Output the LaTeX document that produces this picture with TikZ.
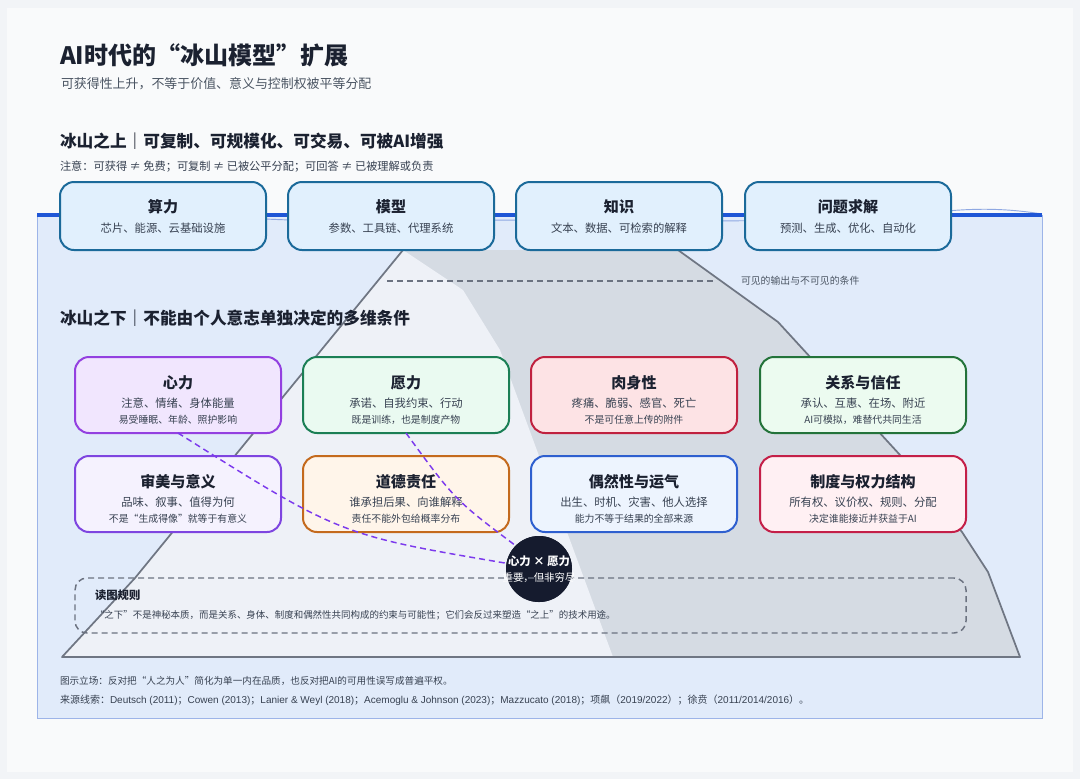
\documentclass[tikz,border=0pt]{standalone}
\usepackage{fontspec}
\setmainfont{Noto Sans CJK SC}
\newfontfamily\latf{Liberation Sans}
\usetikzlibrary{calc}
\definecolor{pagebg}{HTML}{F2F4F7}
\definecolor{cardbg}{HTML}{F9FAFB}
\definecolor{water}{HTML}{E1EBFA}
\definecolor{waterborder}{HTML}{9DB4E8}
\definecolor{waterblue}{HTML}{1F56D6}
\definecolor{wavecol}{HTML}{8FA8E2}
\definecolor{icegray}{HTML}{D5DBE3}
\definecolor{icewhite}{HTML}{EEF1F7}
\definecolor{iceline}{HTML}{6F7683}
\definecolor{topfill}{HTML}{E1F0FD}
\definecolor{topdraw}{HTML}{1B6A9A}
\definecolor{txtdark}{HTML}{1B2130}
\definecolor{txtmid}{HTML}{374151}
\definecolor{txtgray}{HTML}{4B5563}
\definecolor{dashgray}{HTML}{6B7280}
\definecolor{connpurple}{HTML}{7C3AED}
\definecolor{knotfill}{HTML}{151B2E}
\definecolor{pAfill}{HTML}{F1E6FE}\definecolor{pAdraw}{HTML}{9340E0}
\definecolor{gAfill}{HTML}{EAFAF1}\definecolor{gAdraw}{HTML}{1B7F55}
\definecolor{rAfill}{HTML}{FDE3E5}\definecolor{rAdraw}{HTML}{C0213F}
\definecolor{gBfill}{HTML}{ECFBF0}\definecolor{gBdraw}{HTML}{23733A}
\definecolor{lvfill}{HTML}{F5F2FE}\definecolor{lvdraw}{HTML}{7E45E0}
\definecolor{orfill}{HTML}{FFF5EA}\definecolor{ordraw}{HTML}{C46A1D}
\definecolor{blfill}{HTML}{EDF4FE}\definecolor{bldraw}{HTML}{2E5FCF}
\definecolor{pkfill}{HTML}{FFF0F3}\definecolor{pkdraw}{HTML}{C41F48}

\newcommand\topcard[5]{%
  \node[topbox] (#1) at (#2,#3) {};
  \node[ttitle] (#1t) at ($(#1.north)+(0,25)$) {#4};
  \node[tsub] (#1s) at ($(#1.north)+(0,46)$) {#5};
}
\newcommand\icebox[8]{%
  \node[lowbox, fill=#4, draw=#5] (#1) at (#2,#3) {};
  \node[btitle] (#1t) at ($(#1.north)+(0,26)$) {#6};
  \node[bsub] (#1s) at ($(#1.north)+(0,46)$) {#7};
  \node[bnote] (#1n) at ($(#1.north)+(0,63)$) {#8};
}

\begin{document}
\begin{tikzpicture}[x=0.75pt,y=-0.75pt,
  txt/.style={inner sep=0pt, outer sep=0pt, text=txtdark},
  topbox/.style={rectangle, rounded corners=10.5pt, fill=topfill, draw=topdraw, line width=1.5pt,
    minimum width=154.5pt, minimum height=51pt, inner sep=0pt, outer sep=0pt},
  lowbox/.style={rectangle, rounded corners=10.5pt, line width=1.5pt,
    minimum width=154.5pt, minimum height=57pt, inner sep=0pt, outer sep=0pt},
  ttitle/.style={txt, font=\fontsize{11.3}{13}\selectfont\bfseries},
  tsub/.style={txt, text=txtmid, font=\fontsize{8.5}{10}\selectfont},
  btitle/.style={txt, font=\fontsize{11.3}{13}\selectfont\bfseries},
  bsub/.style={txt, text=txtmid, font=\fontsize{8.5}{10}\selectfont},
  bnote/.style={txt, text=txtmid, font=\fontsize{7.4}{9}\selectfont},
  conn/.style={draw=connpurple, line width=1.1pt, dash pattern=on 4.5pt off 3pt},
  dashgrayline/.style={draw=dashgray, line width=1.1pt, dash pattern=on 4.5pt off 3pt},
  iceoutline/.style={draw=iceline, line width=1.3pt, line join=round},
]
\useasboundingbox (0,0) rectangle (1080,779);
\fill[pagebg] (0,0) rectangle (1080,779);
\fill[cardbg] (7,8) rectangle (1073,772);

% water
\filldraw[fill=water, draw=waterborder, line width=0.7pt] (37,215) rectangle (1042,718);
\draw[wavecol, line width=0.7pt] (37,216) .. controls (130,204) and (230,224) .. (400,221)
  .. controls (560,218) and (760,224) .. (880,218) .. controls (940,212) and (980,204) .. (1042,214);
\draw[waterblue, line width=2.6pt] (37,215) -- (1042,215);

% iceberg
\fill[icegray] (403,250) -- (678,250) -- (778,322) -- (900,455) -- (962,532) -- (988,572)
  -- (1020,657) -- (62,657) -- (135,578) -- cycle;
\fill[icewhite] (403,250) -- (463,290) -- (500,350) -- (613,657) -- (62,657) -- (135,578) -- cycle;
\draw[iceoutline] (403,250) -- (135,578) -- (62,657) -- (1020,657) -- (988,572) -- (962,532)
  -- (900,455) -- (778,322) -- (678,250);

% visible line
\coordinate (vl1) at (387,281);
\coordinate (vl2) at (716,281);
\draw[dashgrayline] (vl1) -- (vl2);
\node[txt, anchor=west, text=txtgray, font=\fontsize{7.4}{9}\selectfont] (vlabel) at (741,281) {可见的输出与不可见的条件};

% headings
\node[txt, anchor=west, font=\fontsize{18}{21}\selectfont\bfseries] (title) at (60,55) {AI时代的“冰山模型”扩展};
\node[txt, anchor=west, text=txtgray, font=\fontsize{9.7}{12}\selectfont] (subtitle) at (61,84) {可获得性上升，不等于价值、意义与控制权被平等分配};
\node[txt, anchor=west, font=\fontsize{12.5}{15}\selectfont\bfseries] (above) at (60,141) {冰山之上｜可复制、可规模化、可交易、可被AI增强};
\node[txt, anchor=west, text=txtmid, font=\fontsize{8.4}{10}\selectfont] (note) at (60,167) {注意：可获得 ≠ 免费；可复制 ≠ 已被公平分配；可回答 ≠ 已被理解或负责};
\node[txt, anchor=west, font=\fontsize{12.5}{15}\selectfont\bfseries] (below) at (60,318) {冰山之下｜不能由个人意志单独决定的多维条件};

% top cards
\topcard{suanli}{163}{216}{算力}{芯片、能源、云基础设施}
\topcard{moxing}{391}{216}{模型}{参数、工具链、代理系统}
\topcard{zhishi}{619}{216}{知识}{文本、数据、可检索的解释}
\topcard{qiujie}{848}{216}{问题求解}{预测、生成、优化、自动化}

% lower boxes
\icebox{xinli}{178}{395}{pAfill}{pAdraw}{心力}{注意、情绪、身体能量}{易受睡眠、年龄、照护影响}
\icebox{yuanli}{406}{395}{gAfill}{gAdraw}{愿力}{承诺、自我约束、行动}{既是训练，也是制度产物}
\icebox{roushen}{634}{395}{rAfill}{rAdraw}{肉身性}{疼痛、脆弱、感官、死亡}{不是可任意上传的附件}
\icebox{guanxi}{863}{395}{gBfill}{gBdraw}{关系与信任}{承认、互惠、在场、附近}{AI可模拟，难替代共同生活}
\icebox{shenmei}{178}{494}{lvfill}{lvdraw}{审美与意义}{品味、叙事、值得为何}{不是“生成得像”就等于有意义}
\icebox{daode}{406}{494}{orfill}{ordraw}{道德责任}{谁承担后果、向谁解释}{责任不能外包给概率分布}
\icebox{ouran}{634}{494}{blfill}{bldraw}{偶然性与运气}{出生、时机、灾害、他人选择}{能力不等于结果的全部来源}
\icebox{zhidu}{863}{494}{pkfill}{pkdraw}{制度与权力结构}{所有权、议价权、规则、分配}{决定谁能接近并获益于AI}

% knot
\node[circle, fill=knotfill, minimum size=49.5pt, inner sep=0pt, outer sep=0pt] (knot) at (539,569) {};
\draw[conn] (xinli.south) .. controls (340,535) .. (knot.170);
\draw[conn] (yuanli.south) .. controls (455,500) .. (knot.135);
\fill[knotfill] (knot.center) circle (24.75pt);

% rules box
\node[rectangle, rounded corners=9pt, draw=dashgray, line width=1.1pt, dash pattern=on 4.5pt off 3pt,
  minimum width=668.25pt, minimum height=41.25pt, inner sep=0pt, outer sep=0pt] (rules) at (520.5,605.5) {};
\node[txt, anchor=west, font=\fontsize{8.5}{10}\selectfont\bfseries] (rulest) at (95,595) {读图规则};
\node[txt, anchor=west, text=txtmid, font=\fontsize{7.1}{9}\selectfont] (rulesx) at (95,615) {“之下”不是神秘本质，而是关系、身体、制度和偶然性共同构成的约束与可能性；它们会反过来塑造“之上”的技术用途。};

% knot text
\node[txt, text=white, font=\fontsize{8.5}{10}\selectfont\bfseries] (knott) at (539,561) {心力 × 愿力};
\node[txt, text=white, font=\fontsize{7.8}{9}\selectfont] (knots) at (539,578) {重要，但非穷尽};

% footer
\node[txt, anchor=west, text=txtmid, font=\fontsize{7.2}{9}\selectfont] (foot1) at (60,681) {图示立场：反对把“人之为人”简化为单一内在品质，也反对把AI的可用性误写成普遍平权。};
\node[txt, anchor=west, text=txtmid, font=\fontsize{7.5}{9}\selectfont] (foot2) at (60,700) {来源线索：{\latf Deutsch (2011)}；{\latf Cowen (2013)}；{\latf Lanier \& Weyl (2018)}；{\latf Acemoglu \& Johnson (2023)}；{\latf Mazzucato (2018)}；项飙（{\latf 2019/2022}）；徐贲（{\latf 2011/2014/2016}）。};
\end{tikzpicture}
\end{document}
